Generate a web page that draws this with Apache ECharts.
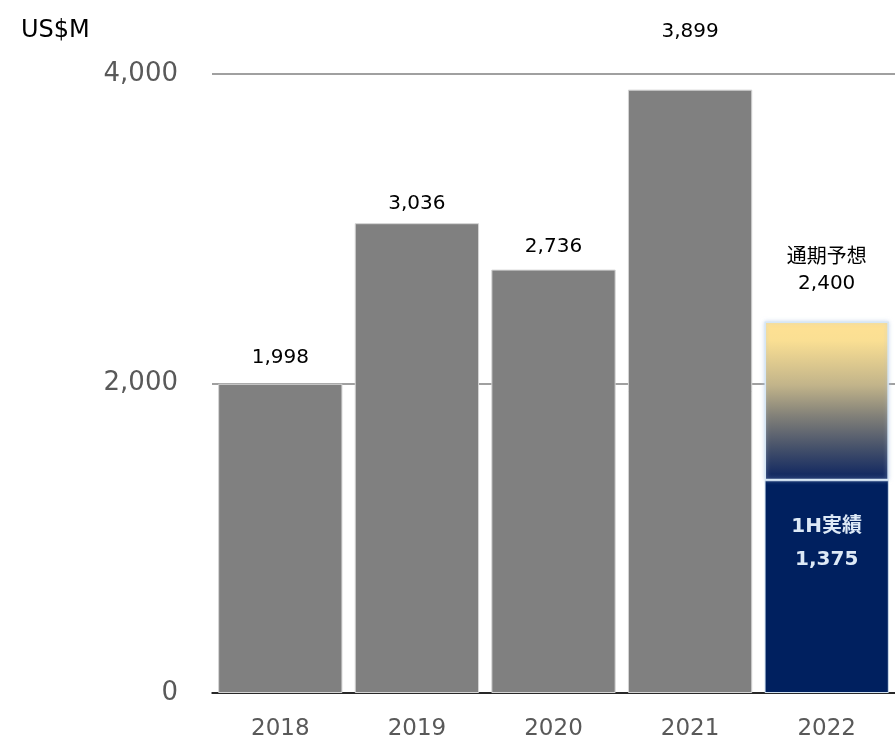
<!DOCTYPE html>
<html>
<head>
<meta charset="utf-8">
<script src="https://cdn.jsdelivr.net/npm/echarts@6/dist/echarts.min.js"></script>
<style>
html,body{margin:0;padding:0;background:#fff;}
#chart{width:895px;height:741px;}
</style>
</head>
<body>
<div id="chart"></div>
<script>
const categories = ['2018', '2019', '2020', '2021', '2022'];
const actualValues = [1998, 3036, 2736, 3899, 1375];
const forecastRemainder = [null, null, null, null, 1025];
const forecastTotal = 2400;
const yTicks = [0, 2000, 4000];
const unitLabel = 'US$M';
const firstHalfLabel = '1H実績';
const forecastLabel = '通期予想';

const FONT = "'DejaVu Sans', 'Noto Sans CJK JP', sans-serif";
const fmt = v => v.toLocaleString('en-US');
const labelDistances = [16, 9, 13, 48];

const chart = echarts.init(document.getElementById('chart'));
chart.setOption({
  animation: false,
  backgroundColor: '#ffffff',
  title: {
    text: unitLabel, left: 16, top: 14,
    textStyle: { fontFamily: FONT, fontSize: 24, fontWeight: 'normal', color: '#000' }
  },
  grid: { left: 212, top: 74, width: 687, height: 619, containLabel: false },
  xAxis: {
    type: 'category', data: categories,
    axisLine: { lineStyle: { color: '#000', width: 1.5 } },
    axisTick: { show: false },
    axisLabel: { fontFamily: FONT, fontSize: 23, color: '#595959', margin: 25 }
  },
  yAxis: {
    type: 'value', min: yTicks[0], max: yTicks[yTicks.length - 1], interval: 2000,
    axisLine: { show: false }, axisTick: { show: false },
    axisLabel: { fontFamily: FONT, fontSize: 26, color: '#595959', margin: 34, formatter: v => fmt(v) },
    splitLine: { lineStyle: { color: '#808080', width: 1.5 } }
  },
  series: [
    {
      type: 'bar', stack: 'a', barCategoryGap: '9%',
      data: actualValues.map((v, i) => {
        if (i < 4) {
          return {
            value: v,
            itemStyle: { color: '#808080', borderColor: '#d4d4d4', borderWidth: 1 },
            label: { show: true, position: 'top', distance: labelDistances[i],
              fontFamily: FONT, fontSize: 20, color: '#000', formatter: p => fmt(p.value) }
          };
        }
        return {
          value: v,
          itemStyle: { color: '#00205f', borderColor: '#cfe0f0', borderWidth: 1 },
          label: { show: true, position: 'insideTop', distance: 30,
            fontFamily: FONT, fontSize: 20, fontWeight: 'bold', color: '#dde9f6', lineHeight: 33,
            formatter: p => firstHalfLabel + '\n' + fmt(p.value) }
        };
      })
    },
    {
      type: 'bar', stack: 'a',
      data: forecastRemainder.map(v => v === null ? null : {
        value: v,
        itemStyle: {
          color: new echarts.graphic.LinearGradient(0, 0, 0, 1, [
            { offset: 0, color: '#ffe193' },
            { offset: 0.12, color: '#fadf93' },
            { offset: 0.4, color: '#c2b48a' },
            { offset: 0.6, color: '#807f78' },
            { offset: 0.8, color: '#44506a' },
            { offset: 1, color: '#0b2360' }
          ]),
          borderColor: '#d6e6f4', borderWidth: 1.5,
          shadowColor: 'rgba(180,200,230,0.6)', shadowBlur: 4
        },
        label: { show: true, position: 'top', distance: 25,
          fontFamily: FONT, fontSize: 20, color: '#000', lineHeight: 26,
          formatter: () => forecastLabel + '\n' + fmt(forecastTotal) }
      })
    }
  ]
});
</script>
</body>
</html>
